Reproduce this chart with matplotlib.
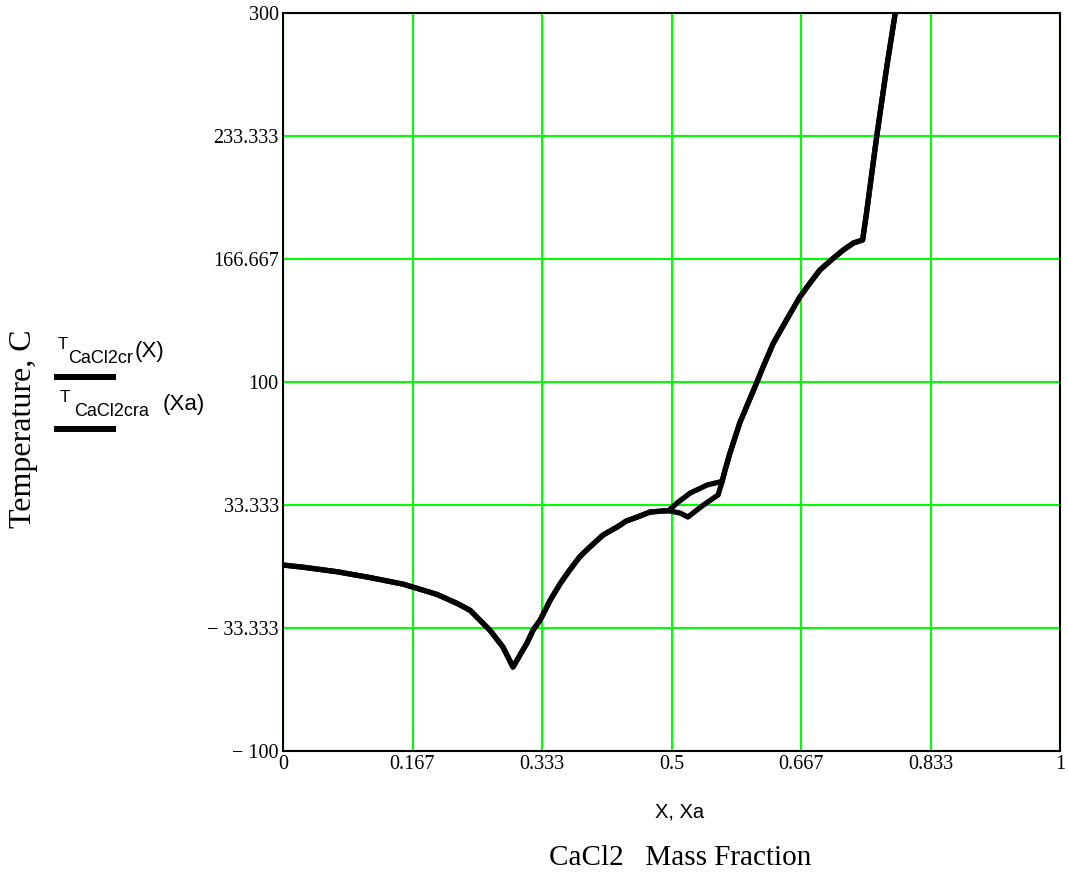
import matplotlib
matplotlib.use('Agg')
import matplotlib.pyplot as plt
from matplotlib.lines import Line2D

# T_CaCl2cr(X)
X = [0, 0.026, 0.069, 0.112, 0.155, 0.198, 0.224, 0.241, 0.249, 0.257, 0.266,
     0.283, 0.296, 0.314, 0.322, 0.331, 0.344, 0.357, 0.369, 0.382, 0.395,
     0.412, 0.430, 0.442, 0.456, 0.472, 0.489, 0.496,
     0.511, 0.521, 0.541, 0.560, 0.565,
     0.569, 0.575, 0.588, 0.601, 0.610, 0.618, 0.631, 0.648, 0.665, 0.678,
     0.691, 0.708, 0.721, 0.734, 0.746, 0.751, 0.764, 0.777, 0.788]
T = [0.8, -0.4, -2.8, -6, -9.6, -15.1, -20, -23.8, -27.2, -30.6, -34.4,
     -43.6, -54.5, -41.5, -34.4, -29, -18.2, -9.1, -1.9, 5.3, 10.6,
     17.1, 21.4, 24.7, 26.8, 29.5, 30.1, 30.2,
     29, 26.8, 33.3, 38.8, 45.8,
     52.3, 61.2, 78, 91, 100, 108.3, 121, 133.6, 146, 153.5,
     160.7, 167, 171.5, 175.3, 177, 191.6, 232.8, 270.7, 300]

# T_CaCl2cra(Xa)
Xa = [0, 0.026, 0.069, 0.112, 0.155, 0.198, 0.224, 0.241, 0.249, 0.257, 0.266,
      0.283, 0.296, 0.314, 0.322, 0.331, 0.344, 0.357, 0.369, 0.382, 0.395,
      0.412, 0.430, 0.442, 0.456, 0.472, 0.489, 0.496,
      0.507, 0.524, 0.546, 0.562, 0.565,
      0.569, 0.575, 0.588, 0.601, 0.610, 0.618, 0.631, 0.648, 0.665, 0.678,
      0.691, 0.708, 0.721, 0.734, 0.746, 0.751, 0.764, 0.777, 0.788]
Ta = [0.8, -0.4, -2.8, -6, -9.6, -15.1, -20, -23.8, -27.2, -30.6, -34.4,
      -43.6, -54.5, -41.5, -34.4, -29, -18.2, -9.1, -1.9, 5.3, 10.6,
      17.1, 21.4, 24.7, 26.8, 29.5, 30.1, 30.2,
      34.4, 39.8, 44.2, 45.8, 46,
      52.3, 61.2, 78, 91, 100, 108.3, 121, 133.6, 146, 153.5,
      160.7, 167, 171.5, 175.3, 177, 191.6, 232.8, 270.7, 300]

x_ticks = [0, 1/6, 1/3, 0.5, 2/3, 5/6, 1]
x_labels = ['0', '0.167', '0.333', '0.5', '0.667', '0.833', '1']
y_ticks = [-100, -100/3, 100/3, 100, 500/3, 700/3, 300]
y_labels = ['\u2212 100', '\u2212 33.333', '33.333', '100', '166.667', '233.333', '300']

serif = 'Liberation Serif'
sans = 'Liberation Sans'

fig = plt.figure(figsize=(10.68, 8.72), dpi=100)
ax = fig.add_axes([283/1068, 1 - 751/872, 777/1068, 738/872])

ax.plot(X, T, color='black', lw=3.8, solid_joinstyle='round', solid_capstyle='round')
ax.plot(Xa, Ta, color='black', lw=3.8, solid_joinstyle='round', solid_capstyle='round')

ax.set_xlim(0, 1)
ax.set_ylim(-100, 300)
ax.set_xticks(x_ticks)
ax.set_xticklabels(x_labels, fontfamily=serif, fontsize=14.5)
ax.set_yticks(y_ticks)
ax.set_yticklabels(y_labels, fontfamily=serif, fontsize=14.5)
ax.tick_params(length=0, pad=3)
ax.grid(True, color='#00ff00', lw=1.5)
ax.set_axisbelow(True)
for s in ax.spines.values():
    s.set_color('black')
    s.set_linewidth(1.5)
    s.set_zorder(3)

# axis titles
fig.text(680/1068, 1 - 812/872, 'X, Xa', fontfamily=sans, fontsize=14.5,
         ha='center', va='center')
fig.text(680/1068, 1 - 858/872, 'CaCl2   Mass Fraction', fontfamily=serif,
         fontsize=21, ha='center', va='center')
fig.text(24/1068, 1 - 429/872, 'Temperature, C', fontfamily=serif, fontsize=23,
         rotation=90, ha='center', va='center')

# legend entries
fig.add_artist(Line2D([57/1068, 113/1068], [1 - 377/872, 1 - 377/872],
                      color='black', lw=4.3))
fig.add_artist(Line2D([57/1068, 113/1068], [1 - 429/872, 1 - 429/872],
                      color='black', lw=4.3))
fig.text(58/1068, 1 - 344/872, 'T', fontfamily=sans, fontsize=12, ha='left', va='center')
fig.text(68/1068, 1 - 358/872, 'CaCl2cr', fontfamily=sans, fontsize=13, ha='left', va='center')
fig.text(135/1068, 1 - 351/872, '(X)', fontfamily=sans, fontsize=16, ha='left', va='center')
fig.text(60/1068, 1 - 397/872, 'T', fontfamily=sans, fontsize=12, ha='left', va='center')
fig.text(74/1068, 1 - 411/872, 'CaCl2cra', fontfamily=sans, fontsize=13, ha='left', va='center')
fig.text(163/1068, 1 - 404/872, '(Xa)', fontfamily=sans, fontsize=16, ha='left', va='center')

fig.savefig('out.png', dpi=100)
